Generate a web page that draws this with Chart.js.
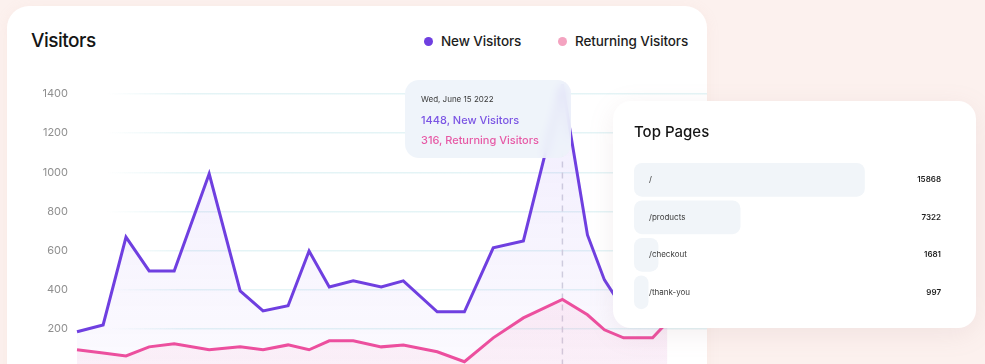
<!DOCTYPE html>
<html>
<head>
<meta charset="utf-8">
<title>Visitors</title>
<script src="https://cdn.jsdelivr.net/npm/chart.js@4.4.0/dist/chart.umd.min.js"></script>
<style>
  html, body { margin: 0; padding: 0; }
  body {
    width: 985px; height: 364px; overflow: hidden; position: relative;
    background: #fcf1ee; font-family: 'Inter', 'Noto Sans', sans-serif;
  }
  .card { position: absolute; background: #fff; }
  #visitorsCard { left: 7px; top: 6px; width: 700px; height: 430px; border-radius: 22px; box-shadow: 0 2px 14px rgba(220, 170, 160, 0.10); }
  #pagesCard { left: 613px; top: 101px; width: 363px; height: 227px; border-radius: 18px; box-shadow: 0 6px 26px rgba(170, 130, 140, 0.13); z-index: 5; }
  .title { position: absolute; color: #151515; font-weight: 500; white-space: nowrap; }
  #visitorsTitle { left: 31px; top: 31px; font-size: 19px; line-height: 20px; letter-spacing: -0.5px; }
  #pagesTitle { left: 634px; top: 124px; font-size: 15px; line-height: 16px; z-index: 6; }
  .legend { position: absolute; top: 33px; font-size: 13.5px; line-height: 16px; font-weight: 500; color: #1d1d1d; white-space: nowrap; letter-spacing: -0.1px; }
  .dot { position: absolute; top: 37px; width: 9px; height: 9px; border-radius: 50%; }
  #lineCanvas { position: absolute; left: 20px; top: 84px; }
  #barCanvas { position: absolute; left: 634px; top: 161px; z-index: 6; }
  #tip {
    position: absolute; left: 405px; top: 80px; width: 166px; height: 78px; border-radius: 14px;
    background: rgba(237, 242, 249, 0.88); backdrop-filter: blur(5px); z-index: 4;
  }
  #tip div { position: absolute; left: 16px; white-space: nowrap; }
  #tipDate { top: 14px; font-size: 8px; color: #3a3a3a; }
  #tipNew { top: 33px; font-size: 11px; color: #7b55e4; font-weight: 500; }
  #tipRet { top: 53px; font-size: 11px; color: #e75aa6; font-weight: 500; }
</style>
</head>
<body>
<div class="card" id="visitorsCard"></div>
<div class="title" id="visitorsTitle">Visitors</div>
<span class="dot" style="left:424px; background:#6f3fe0;"></span>
<span class="legend" style="left:441px;">New Visitors</span>
<span class="dot" style="left:558px; background:#f4a3c0;"></span>
<span class="legend" style="left:575px;">Returning Visitors</span>

<canvas id="lineCanvas" width="687" height="284"></canvas>

<div id="tip">
  <div id="tipDate">Wed, June 15 2022</div>
  <div id="tipNew">1448, New Visitors</div>
  <div id="tipRet">316, Returning Visitors</div>
</div>

<div class="card" id="pagesCard"></div>
<div class="title" id="pagesTitle">Top Pages</div>
<canvas id="barCanvas" width="320" height="150"></canvas>

<script>
// -------------------------
// Data
// -------------------------
// days since the first sample (the samples are not evenly spaced)
const dayOffsets = [0, 0.97, 1.82, 2.68, 3.61, 4.91, 6.06, 6.91, 7.84, 8.62, 9.37, 10.26,
                    11.30, 12.12, 13.38, 14.39, 15.46, 16.58, 18.03, 18.96, 19.59, 20.30, 21.38, 21.93];
const newVisitors = [185, 220, 669, 496, 496, 992, 394, 292, 318, 598, 414, 445,
                     414, 445, 287, 287, 614, 649, 1448, 680, 450, 300, 320, 380];
const returningVisitors = [93, 77, 62, 108, 124, 93, 108, 93, 118, 93, 139, 139,
                           108, 118, 83, 32, 154, 256, 350, 272, 195, 154, 154, 235];
const yTicks = [0, 200, 400, 600, 800, 1000, 1200, 1400];

const pagePaths = ['/', '/products', '/checkout', '/thank-you'];
const pageViews = [15868, 7322, 1681, 997];

const peakIndex = newVisitors.indexOf(Math.max(...newVisitors));

// -------------------------
// Helpers
// -------------------------
function verticalFill(rgb, topAlpha, bottomAlpha) {
    return (context) => {
        const { ctx, chartArea } = context.chart;
        if (!chartArea) return `rgba(${rgb},${bottomAlpha})`;
        const g = ctx.createLinearGradient(0, chartArea.top, 0, chartArea.bottom);
        g.addColorStop(0, `rgba(${rgb},${topAlpha})`);
        g.addColorStop(1, `rgba(${rgb},${bottomAlpha})`);
        return g;
    };
}

function fadedGrid(context) {
    const { ctx, chartArea } = context.chart;
    if (!chartArea) return 'rgba(228,244,246,1)';
    const g = ctx.createLinearGradient(chartArea.left + 30, 0, chartArea.left + 110, 0);
    g.addColorStop(0, 'rgba(228,244,246,0)');
    g.addColorStop(1, 'rgba(228,244,246,1)');
    return g;
}

// keep axis labels from shrinking the plot area
function noLabelPadding(scale, width) {
    scale.width = width;
    scale.paddingTop = 0;
    scale.paddingBottom = 0;
}

// dashed marker under the hovered day
const hoverLine = {
    id: 'hoverLine',
    beforeDatasetsDraw(chart) {
        const { ctx, chartArea, scales } = chart;
        const x = scales.x.getPixelForValue(dayOffsets[peakIndex]);
        ctx.save();
        ctx.strokeStyle = '#d3d3dd';
        ctx.lineWidth = 1.5;
        ctx.setLineDash([6, 5]);
        ctx.beginPath();
        ctx.moveTo(x, scales.y.getPixelForValue(newVisitors[peakIndex]));
        ctx.lineTo(x, chartArea.bottom);
        ctx.stroke();
        ctx.restore();
    }
};

// -------------------------
// Visitors line chart
// -------------------------
const lineCtx = document.getElementById('lineCanvas').getContext('2d');
const visitorsChart = new Chart(lineCtx, {
    type: 'line',
    data: {
        datasets: [{
            label: 'New Visitors',
            data: dayOffsets.map((d, i) => ({ x: d, y: newVisitors[i] })),
            borderColor: '#6f3fe0',
            borderWidth: 3,
            backgroundColor: verticalFill('132,92,240', 0.11, 0.03),
            fill: 'origin',
            pointRadius: 0,
            tension: 0,
            clip: false,
            order: 1
        }, {
            label: 'Returning Visitors',
            data: dayOffsets.map((d, i) => ({ x: d, y: returningVisitors[i] })),
            borderColor: '#ec4f9e',
            borderWidth: 3,
            backgroundColor: verticalFill('240,80,150', 0.18, 0.06),
            fill: 'origin',
            pointRadius: 0,
            tension: 0,
            clip: false,
            order: 0
        }]
    },
    options: {
        responsive: false,
        animation: false,
        layout: { padding: { top: 10, left: 0, right: 0, bottom: 0 } },
        plugins: { legend: { display: false }, tooltip: { enabled: false } },
        scales: {
            x: { type: 'linear', display: false, min: 0, max: 23.4 },
            y: {
                min: yTicks[0],
                max: yTicks[yTicks.length - 1],
                afterFit(scale) { noLabelPadding(scale, 57); },
                afterBuildTicks(scale) { scale.ticks = yTicks.map(v => ({ value: v })); },
                border: { display: false },
                grid: { color: fadedGrid, lineWidth: 1.5, drawTicks: false },
                ticks: {
                    padding: 9,
                    color: '#8f8f8f',
                    font: { family: 'Inter', size: 11 },
                    callback: v => v === 0 ? '' : v
                }
            }
        }
    },
    plugins: [hoverLine]
});

// -------------------------
// Top pages bars
// -------------------------
const pageValues = {
    id: 'pageValues',
    afterDatasetsDraw(chart) {
        const { ctx, chartArea, scales } = chart;
        ctx.save();
        ctx.font = '600 8px Inter';
        ctx.fillStyle = '#1e1e1e';
        ctx.textAlign = 'right';
        ctx.textBaseline = 'middle';
        pageViews.forEach((v, i) => {
            ctx.fillText(String(v), chartArea.right - 13, scales.y.getPixelForValue(i));
        });
        ctx.restore();
    }
};

const barCtx = document.getElementById('barCanvas').getContext('2d');
const pagesChart = new Chart(barCtx, {
    type: 'bar',
    data: {
        labels: pagePaths,
        datasets: [{
            label: 'Views',
            data: pageViews,
            backgroundColor: '#f1f5f9',
            borderRadius: 8,
            borderSkipped: false,
            barPercentage: 0.9,
            categoryPercentage: 1
        }]
    },
    options: {
        indexAxis: 'y',
        responsive: false,
        animation: false,
        layout: { padding: 0 },
        plugins: { legend: { display: false }, tooltip: { enabled: false } },
        scales: {
            x: { display: false, min: 0, max: 22000 },
            y: {
                afterFit(scale) { noLabelPadding(scale, 0); },
                border: { display: false },
                grid: { display: false, drawTicks: false },
                ticks: { z: 1, mirror: true, padding: 15, color: '#3a3a3a', font: { family: 'Inter', size: 8 } }
            }
        }
    },
    plugins: [pageValues]
});
</script>
</body>
</html>
